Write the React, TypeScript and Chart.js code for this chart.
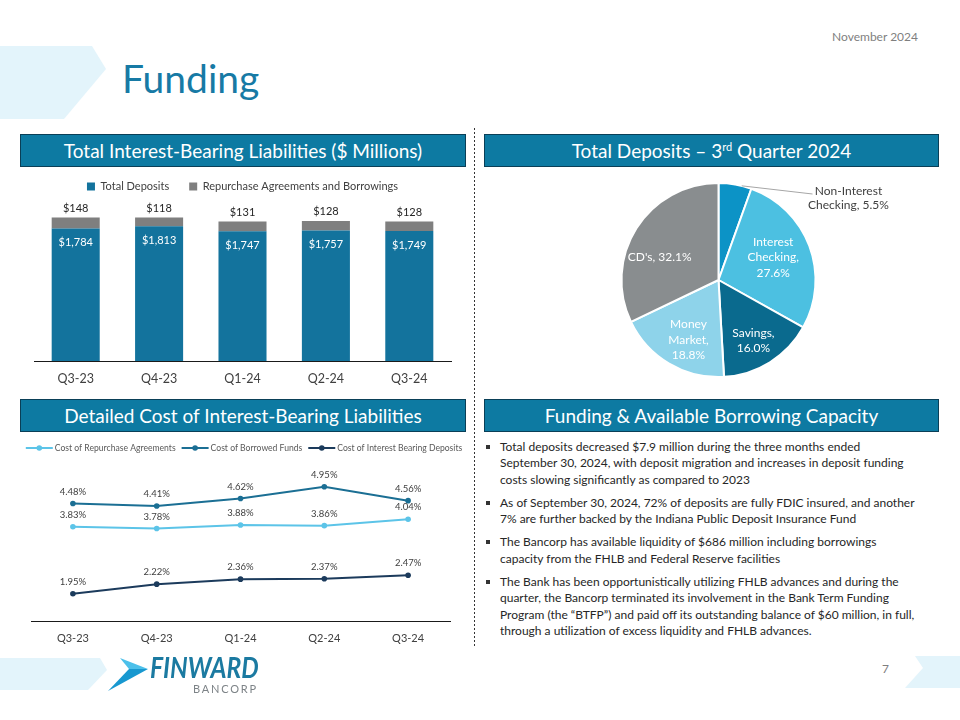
import React, { useEffect, useRef } from 'react';
import { Chart, registerables } from 'chart.js';

Chart.register(...registerables);

const FONT = 'Lato, "Open Sans", "DejaVu Sans", sans-serif';

// ---------- data ----------
const quarters = ['Q3-23', 'Q4-23', 'Q1-24', 'Q2-24', 'Q3-24'];
const totalDeposits = [1784, 1813, 1747, 1757, 1749];
const repoBorrowings = [148, 118, 131, 128, 128];

const depositCategories = ['Non-Interest Checking', 'Interest Checking', 'Savings', 'Money Market', "CD's"];
const depositShares = [5.5, 27.6, 16.0, 18.8, 32.1];
const pieLabelLineCount = [2, 3, 2, 3, 1];

const costRepo = [3.83, 3.78, 3.88, 3.86, 4.04];
const costBorrowed = [4.48, 4.41, 4.62, 4.95, 4.56];
const costDeposits = [1.95, 2.22, 2.36, 2.37, 2.47];

const bullets = [
  [
    'Total deposits decreased $7.9 million during the three months ended',
    'September 30, 2024, with deposit migration and increases in deposit funding',
    'costs slowing significantly as compared to 2023',
  ],
  [
    'As of September 30, 2024, 72% of deposits are fully FDIC insured, and another',
    '7% are further backed by the Indiana Public Deposit Insurance Fund',
  ],
  [
    'The Bancorp has available liquidity of $686 million including borrowings',
    'capacity from the FHLB and Federal Reserve facilities',
  ],
  [
    'The Bank has been opportunistically utilizing FHLB advances and during the',
    'quarter, the Bancorp terminated its involvement in the Bank Term Funding',
    'Program (the \u201cBTFP\u201d) and paid off its outstanding balance of $60 million, in full,',
    'through a utilization of excess liquidity and FHLB advances.',
  ],
];

// ---------- colours ----------
const C_DEP = '#13739d';
const C_GRAY = '#7f7f7f';
const PIE_COLORS = ['#0c93c6', '#4cc0e1', '#0a6a8e', '#8ed3ea', '#898d8f'];
const C_REPO = '#5cc4e8';
const C_BORR = '#1b6f94';
const C_DEPC = '#1c3b5c';
const HEADER_BG = '#0d7aa2';

function pieLines(i: number): string[] {
  const tokens = depositCategories[i].split(' ');
  tokens[tokens.length - 1] += ',';
  tokens.push(depositShares[i].toFixed(1) + '%');
  const n = pieLabelLineCount[i];
  if (n === 1) return [tokens.join(' ')];
  const out = tokens.slice(0, n - 1);
  out.push(tokens.slice(n - 1).join(' '));
  return out;
}

function BarChart() {
  const ref = useRef<HTMLCanvasElement>(null);
  useEffect(() => {
    const labelPlugin = {
      id: 'barLabels',
      afterDatasetsDraw(chart: any) {
        const ctx = chart.ctx;
        ctx.save();
        ctx.font = `11px ${FONT}`;
        ctx.textAlign = 'center';
        ctx.textBaseline = 'middle';
        chart.data.datasets.forEach((ds: any, di: number) => {
          const meta = chart.getDatasetMeta(di);
          meta.data.forEach((el: any, i: number) => {
            const txt = '$' + Number(ds.data[i]).toLocaleString('en-US');
            if (di === 0) {
              ctx.fillStyle = '#ffffff';
              ctx.fillText(txt, el.x, el.y + 14);
            } else {
              ctx.fillStyle = '#262626';
              ctx.fillText(txt, el.x, el.y - 9);
            }
          });
        });
        ctx.restore();
      },
    };
    const chart = new Chart(ref.current as HTMLCanvasElement, {
      type: 'bar',
      data: {
        labels: quarters,
        datasets: [
          { label: 'Total Deposits', data: totalDeposits, backgroundColor: C_DEP, stack: 's' },
          { label: 'Repurchase Agreements and Borrowings', data: repoBorrowings, backgroundColor: C_GRAY, stack: 's' },
        ],
      },
      options: {
        animation: false,
        responsive: false,
        maintainAspectRatio: false,
        layout: { padding: { left: 10, right: 10, top: 0, bottom: 0 } },
        datasets: { bar: { categoryPercentage: 0.8, barPercentage: 0.72 } },
        plugins: {
          legend: {
            position: 'top',
            labels: { boxWidth: 8, boxHeight: 8, padding: 20, color: '#404040', font: { size: 11, family: FONT } },
          },
          tooltip: { enabled: false },
        },
        scales: {
          x: {
            stacked: true,
            grid: { display: false, drawTicks: false },
            border: { display: true, color: '#1a1a1a', width: 1 },
            ticks: { color: '#404040', padding: 10, font: { size: 12.5, family: FONT } },
          },
          y: { stacked: true, display: false, min: 0, max: 2140 },
        },
      } as any,
      plugins: [labelPlugin],
    });
    return () => chart.destroy();
  }, []);
  return (
    <canvas
      ref={ref}
      width={437}
      height={235}
      style={{ position: 'absolute', left: 24, top: 161, width: 437, height: 235 }}
    />
  );
}

function PieChart() {
  const ref = useRef<HTMLCanvasElement>(null);
  useEffect(() => {
    const fractions = [1, 0.61, 0.72, 0.69, 0.65];
    const shiftsDeg = [0, -2, 2, -4, -11];
    const labelPlugin = {
      id: 'pieLabels',
      afterDatasetsDraw(chart: any) {
        const ctx = chart.ctx;
        const meta = chart.getDatasetMeta(0);
        ctx.save();
        ctx.font = `12px ${FONT}`;
        ctx.textAlign = 'center';
        ctx.textBaseline = 'middle';
        meta.data.forEach((arc: any, i: number) => {
          const { x, y, startAngle, endAngle, outerRadius } = arc.getProps(
            ['x', 'y', 'startAngle', 'endAngle', 'outerRadius'],
            true
          );
          const lines = pieLines(i);
          const lh = 15.5;
          if (i === 0) {
            // outside label with leader line
            const mid = (startAngle + endAngle) / 2 + (endAngle - startAngle) * 0.2;
            const ex = x + Math.cos(mid) * outerRadius;
            const ey = y + Math.sin(mid) * outerRadius;
            const lx = x + outerRadius + 33;
            const ly = y - outerRadius + 8;
            ctx.strokeStyle = '#a6a6a6';
            ctx.lineWidth = 1;
            ctx.beginPath();
            ctx.moveTo(ex, ey);
            ctx.lineTo(lx - 36, ly + 3);
            ctx.stroke();
            ctx.fillStyle = '#404040';
            lines.forEach((t, k) => ctx.fillText(t, lx, ly + k * 14));
          } else {
            const mid = (startAngle + endAngle) / 2 + (shiftsDeg[i] * Math.PI) / 180;
            const d = outerRadius * fractions[i];
            const cx = x + Math.cos(mid) * d;
            const cy = y + Math.sin(mid) * d;
            ctx.fillStyle = '#ffffff';
            const y0 = cy - ((lines.length - 1) * lh) / 2;
            lines.forEach((t, k) => ctx.fillText(t, cx, y0 + k * lh));
          }
        });
        ctx.restore();
      },
    };
    const chart = new Chart(ref.current as HTMLCanvasElement, {
      type: 'pie',
      data: {
        labels: depositCategories,
        datasets: [
          {
            data: depositShares,
            backgroundColor: PIE_COLORS,
            borderColor: '#ffffff',
            borderWidth: 2,
          },
        ],
      },
      options: {
        animation: false,
        responsive: false,
        maintainAspectRatio: false,
        layout: { padding: { left: 20.5, right: 123.5, top: 10, bottom: 10 } },
        plugins: { legend: { display: false }, tooltip: { enabled: false } },
      } as any,
      plugins: [labelPlugin],
    });
    return () => chart.destroy();
  }, []);
  return (
    <canvas
      ref={ref}
      width={340}
      height={216}
      style={{ position: 'absolute', left: 600, top: 172, width: 340, height: 216 }}
    />
  );
}

function LineChart() {
  const ref = useRef<HTMLCanvasElement>(null);
  useEffect(() => {
    const labelPlugin = {
      id: 'lineLabels',
      afterDatasetsDraw(chart: any) {
        const ctx = chart.ctx;
        ctx.save();
        ctx.font = `9.5px ${FONT}`;
        ctx.textAlign = 'center';
        ctx.textBaseline = 'middle';
        ctx.fillStyle = '#404040';
        chart.data.datasets.forEach((ds: any, di: number) => {
          const meta = chart.getDatasetMeta(di);
          meta.data.forEach((el: any, i: number) => {
            ctx.fillText(Number(ds.data[i]).toFixed(2) + '%', el.x, el.y - 12);
          });
        });
        ctx.restore();
      },
    };
    // single-row legend drawn with line+dot markers
    const legendPlugin = {
      id: 'lineLegend',
      afterDraw(chart: any) {
        const ctx = chart.ctx;
        ctx.save();
        ctx.font = `8.6px ${FONT}`;
        ctx.textBaseline = 'middle';
        ctx.textAlign = 'left';
        const mw = 27;
        const gap1 = 2;
        const gap2 = 6;
        const items = chart.data.datasets.map((ds: any) => ({
          text: ds.label,
          color: ds.borderColor,
          w: ctx.measureText(ds.label).width,
        }));
        const total =
          items.reduce((s: number, it: any) => s + mw + gap1 + it.w, 0) + gap2 * (items.length - 1);
        let x = 224 - total / 2;
        const y = 11;
        items.forEach((it: any) => {
          ctx.strokeStyle = it.color;
          ctx.fillStyle = it.color;
          ctx.lineWidth = 2;
          ctx.beginPath();
          ctx.moveTo(x, y);
          ctx.lineTo(x + mw, y);
          ctx.stroke();
          ctx.beginPath();
          ctx.arc(x + mw / 2, y, 2.8, 0, Math.PI * 2);
          ctx.fill();
          ctx.fillStyle = '#595959';
          ctx.fillText(it.text, x + mw + gap1, y);
          x += mw + gap1 + it.w + gap2;
        });
        ctx.restore();
      },
    };
    const mk = (label: string, data: number[], color: string) => ({
      label,
      data,
      borderColor: color,
      backgroundColor: color,
      borderWidth: 2,
      pointRadius: 2.8,
      pointBorderWidth: 0,
      tension: 0,
    });
    const chart = new Chart(ref.current as HTMLCanvasElement, {
      type: 'line',
      data: {
        labels: quarters,
        datasets: [
          mk('Cost of Repurchase Agreements', costRepo, C_REPO),
          mk('Cost of Borrowed Funds', costBorrowed, C_BORR),
          mk('Cost of Interest Bearing Deposits', costDeposits, C_DEPC),
        ],
      },
      options: {
        animation: false,
        responsive: false,
        maintainAspectRatio: false,
        layout: { padding: { left: 11, right: 20, top: 25, bottom: 0 } },
        plugins: {
          legend: { display: false },
          tooltip: { enabled: false },
        },
        scales: {
          x: {
            offset: true,
            grid: { display: false, drawTicks: false },
            border: { display: true, color: '#1a1a1a', width: 1 },
            ticks: { color: '#404040', padding: 10, font: { size: 11, family: FONT } },
          },
          y: { display: false, min: 1.165, max: 5.644 },
        },
      } as any,
      plugins: [labelPlugin, legendPlugin],
    });
    return () => chart.destroy();
  }, []);
  return (
    <canvas
      ref={ref}
      width={450}
      height={218}
      style={{ position: 'absolute', left: 20, top: 437, width: 450, height: 218 }}
    />
  );
}

function HeaderBox(props: { left: number; top: number; width: number; children: any }) {
  return (
    <div
      style={{
        position: 'absolute',
        left: props.left,
        top: props.top,
        width: props.width,
        height: 33,
        boxSizing: 'border-box',
        background: HEADER_BG,
        border: '1px solid #0a3f57',
        color: '#ffffff',
        fontSize: 19,
        display: 'flex',
        alignItems: 'center',
        justifyContent: 'center',
        whiteSpace: 'nowrap',
        lineHeight: 1,
      }}
    >
      {props.children}
    </div>
  );
}

export default function App() {
  return (
    <div
      style={{
        position: 'absolute',
        left: 0,
        top: 0,
        width: 960,
        height: 720,
        background: '#ffffff',
        fontFamily: FONT,
        overflow: 'hidden',
      }}
    >
      {/* decorative chevrons */}
      <svg width={960} height={720} style={{ position: 'absolute', left: 0, top: 0 }}>
        <polygon points="0,46 92,46 106,69 64,119 0,119" fill="#e3f4fb" />
        <polygon points="0,658 100,658 107,670 88,690 0,690" fill="#e3f4fb" />
        <polygon points="915,656 960,656 960,688 905,688 923,668" fill="#e3f4fb" />
        <line x1={474.5} y1={128} x2={474.5} y2={648} stroke="#333" strokeWidth={1} strokeDasharray="2 2" />
        {/* logo mark */}
        <polygon points="120,658 148,669 129,669" fill="#4cc0ea" />
        <polygon points="148,669 108,691 129,669" fill="#1898d0" />
      </svg>

      <div
        style={{
          position: 'absolute',
          right: 42,
          top: 31,
          fontSize: 12,
          lineHeight: '12px',
          color: '#7f7f7f',
          whiteSpace: 'nowrap',
        }}
      >
        November 2024
      </div>

      <div
        style={{
          position: 'absolute',
          left: 122,
          top: 59,
          fontSize: 39,
          lineHeight: '39px',
          color: '#177aa5',
          whiteSpace: 'nowrap',
        }}
      >
        Funding
      </div>

      <HeaderBox left={20} top={134} width={446}>
        Total Interest-Bearing Liabilities ($ Millions)
      </HeaderBox>
      <HeaderBox left={484} top={134} width={455}>
        <span>
          Total Deposits – 3
          <span style={{ fontSize: 11, position: 'relative', top: -7 }}>rd</span> Quarter 2024
        </span>
      </HeaderBox>
      <HeaderBox left={20} top={399} width={446}>
        Detailed Cost of Interest-Bearing Liabilities
      </HeaderBox>
      <HeaderBox left={484} top={399} width={455}>
        Funding &amp; Available Borrowing Capacity
      </HeaderBox>

      <BarChart />
      <PieChart />
      <LineChart />

      {/* bullet text */}
      <div style={{ position: 'absolute', left: 500, top: 439, width: 455, color: '#262626', fontSize: 12 }}>
        {bullets.map((para, pi) => (
          <div key={pi} style={{ position: 'relative', marginBottom: 7, lineHeight: '16.3px' }}>
            <span
              style={{
                position: 'absolute',
                left: -14,
                top: 6,
                width: 4,
                height: 4,
                background: '#333',
              }}
            />
            {para.map((ln, li) => (
              <div key={li} style={{ whiteSpace: 'nowrap' }}>
                {ln}
              </div>
            ))}
          </div>
        ))}
      </div>

      {/* logo */}
      <div
        style={{
          position: 'absolute',
          left: 150,
          top: 653,
          fontSize: 28,
          lineHeight: '28px',
          fontWeight: 700,
          fontStyle: 'italic',
          color: '#1b7aa1',
          whiteSpace: 'nowrap',
          transform: 'scaleX(0.88)',
          transformOrigin: 'left top',
        }}
      >
        FINWARD
      </div>
      <div
        style={{
          position: 'absolute',
          left: 193,
          top: 683,
          fontSize: 11,
          lineHeight: '11px',
          letterSpacing: 1.8,
          color: '#7d8387',
          whiteSpace: 'nowrap',
        }}
      >
        BANCORP
      </div>

      <div
        style={{
          position: 'absolute',
          left: 882,
          top: 663,
          fontSize: 12,
          lineHeight: '12px',
          color: '#7f7f7f',
        }}
      >
        7
      </div>
    </div>
  );
}
